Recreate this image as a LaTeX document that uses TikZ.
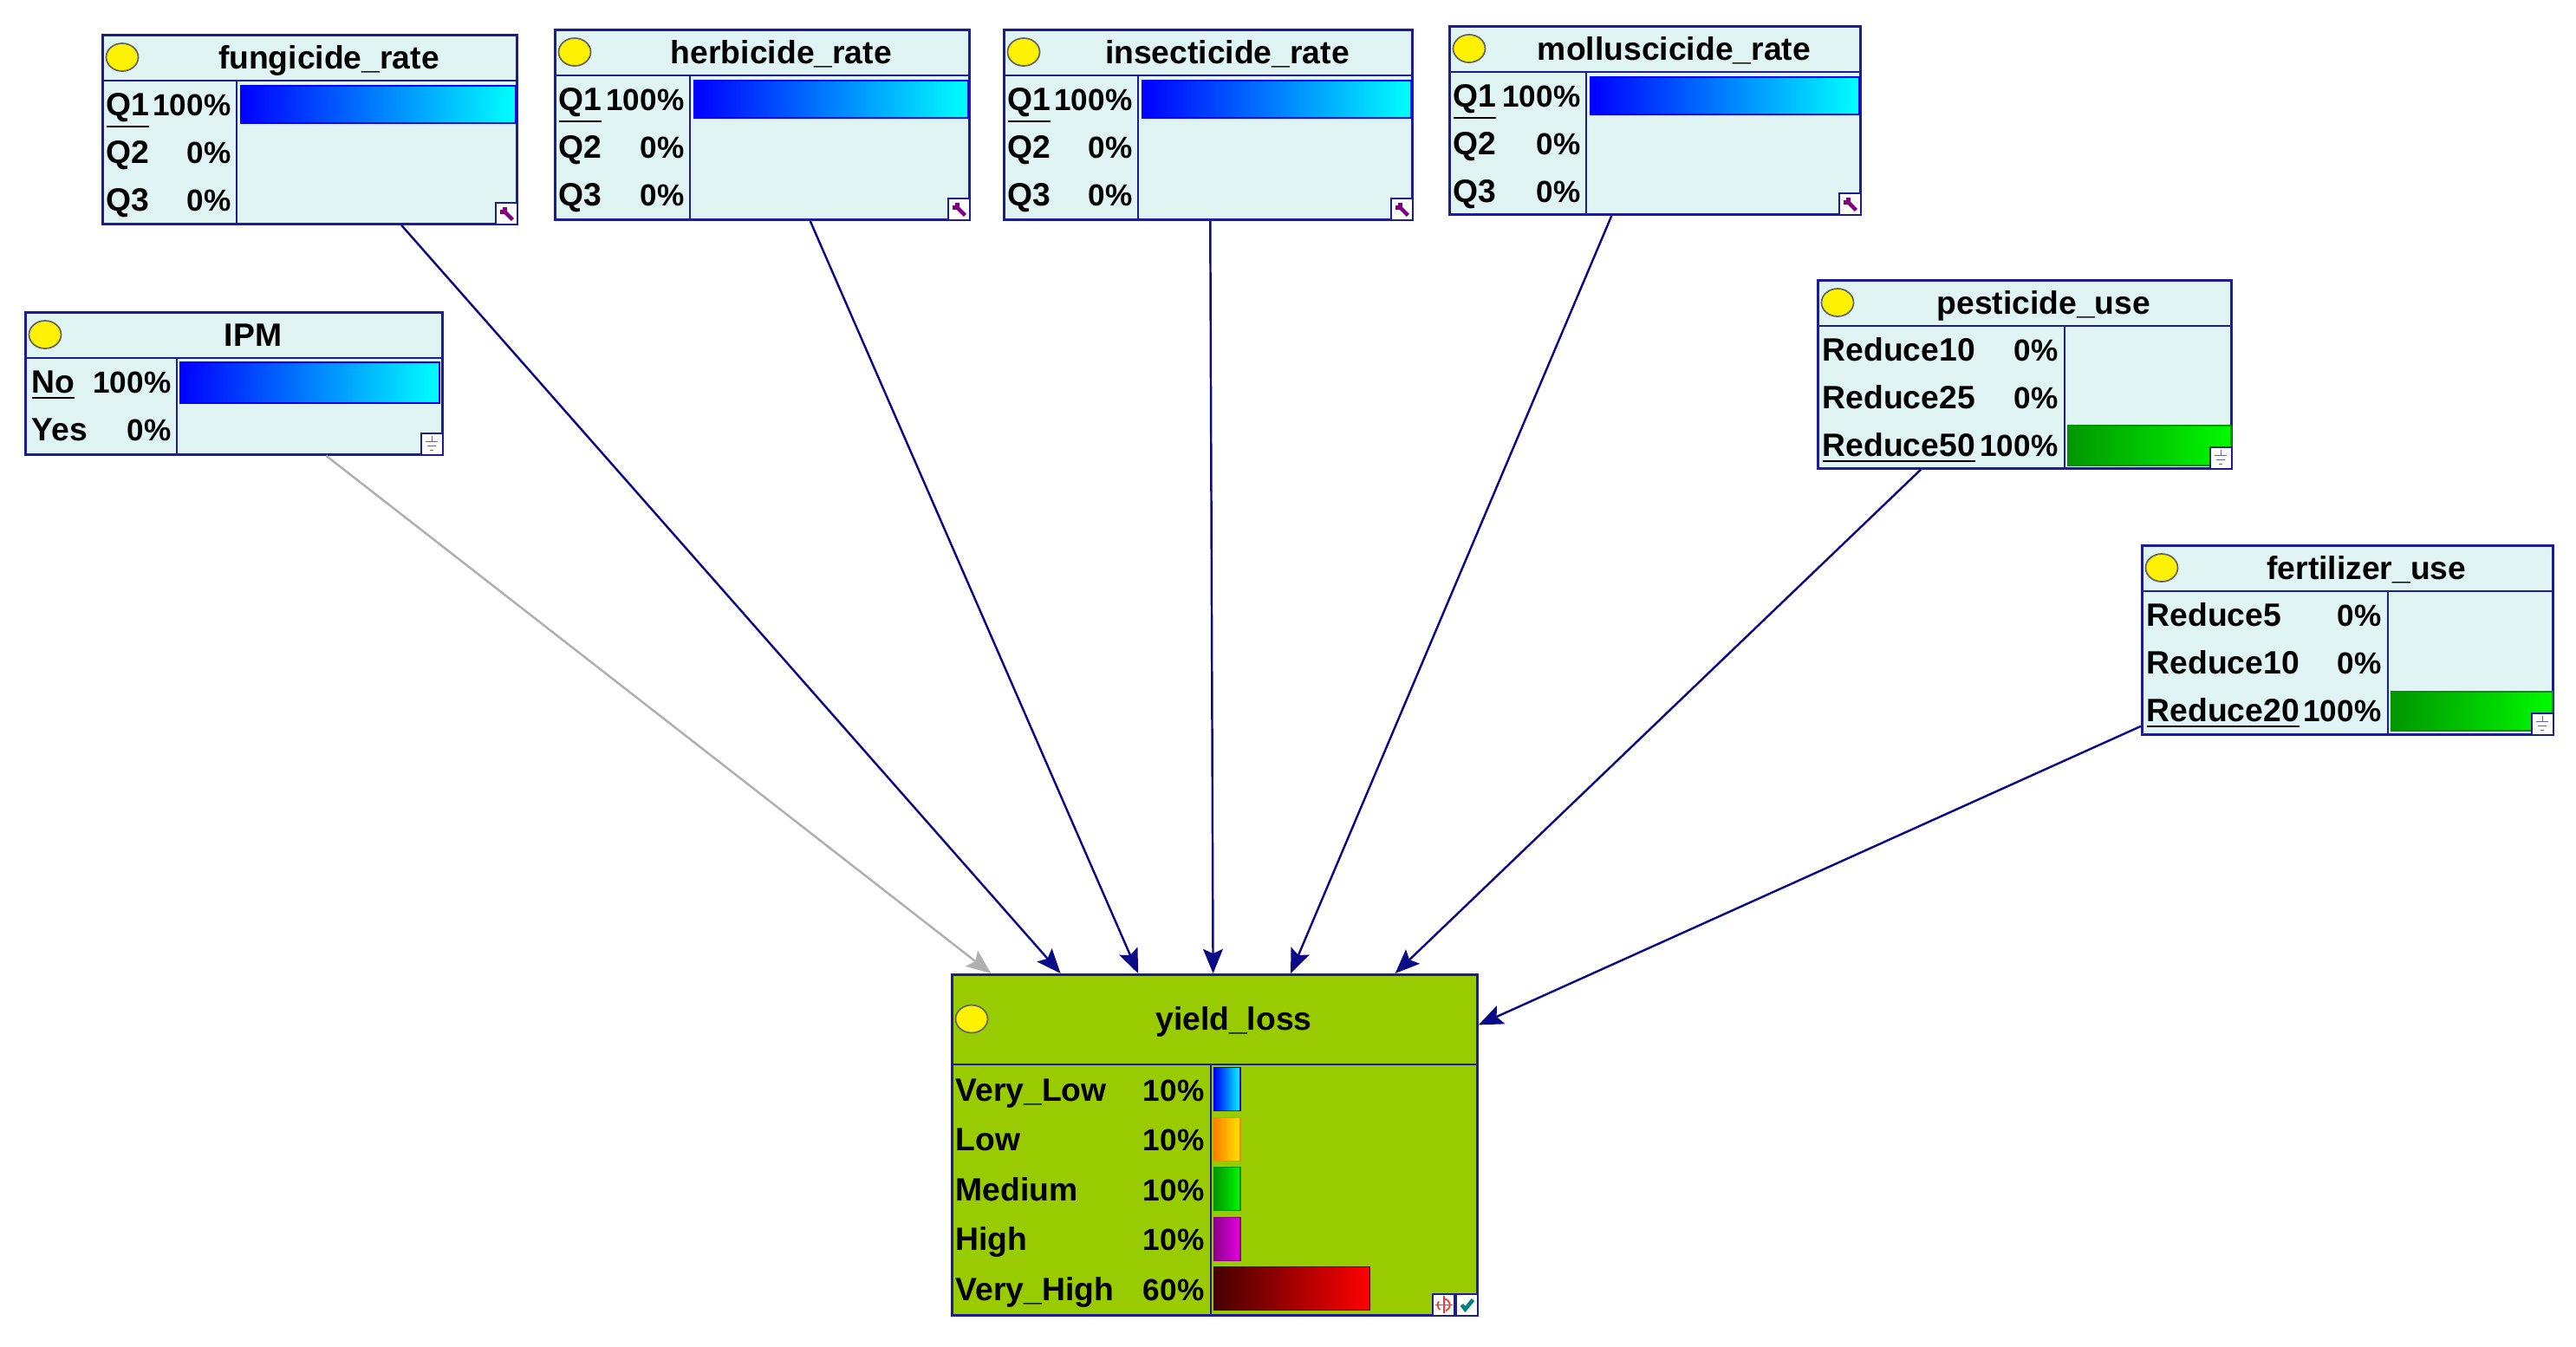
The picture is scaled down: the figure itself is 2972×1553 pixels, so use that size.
\documentclass[tikz,border=0pt]{standalone}
\usepackage{fontspec}
\setmainfont{Liberation Sans}
\usetikzlibrary{shapes, shapes.misc}
\usetikzlibrary{arrows.meta}
\usetikzlibrary{calc}

\definecolor{netblue}{RGB}{28,28,150}
\definecolor{arcblue}{RGB}{10,10,135}
\definecolor{ipmgray}{RGB}{175,175,175}
\definecolor{boxfill}{RGB}{225,244,244}
\definecolor{lossfill}{RGB}{153,204,0}
\definecolor{barblueA}{RGB}{0,0,255}
\definecolor{barblueB}{RGB}{0,255,255}
\definecolor{bargreenA}{RGB}{0,150,0}
\definecolor{bargreenB}{RGB}{0,250,0}
\definecolor{lowA}{RGB}{255,128,0}
\definecolor{lowB}{RGB}{255,230,0}
\definecolor{highA}{RGB}{140,0,140}
\definecolor{highB}{RGB}{230,0,230}
\definecolor{vhighA}{RGB}{70,0,0}
\definecolor{vhighB}{RGB}{255,0,0}

\tikzset{
  netbox/.style={draw=netblue, line width=0.8pt, fill=boxfill, rectangle, inner sep=0pt, anchor=north west},
  netline/.style={draw=netblue, line width=0.8pt},
  nettext/.style={font=\bfseries\fontsize{10.6}{12}\selectfont, inner sep=0pt, text height=10pt, text depth=2.4pt},
  pcttext/.style={nettext, font=\bfseries\fontsize{10}{12}\selectfont, anchor=east},
  bulb/.style={ellipse, draw=black!60, fill=yellow, line width=0.5pt, minimum width=0.37cm, minimum height=0.32cm, inner sep=0pt},
  iconbox/.style={draw=netblue, fill=white, line width=0.5pt, minimum size=0.25cm, inner sep=0pt, anchor=south east},
  wrenchline/.style={draw=violet, line width=1.3pt},
  groundline/.style={draw=netblue!70, line width=0.5pt},
  netarc/.style={>={Stealth[length=8pt, width=6.5pt, inset=1.5pt]}, ->, draw=arcblue, line width=0.7pt},
}

% box with header, bulb and title: name, x, y, width, height, header, column, title
\newcommand{\netnode}[8]{%
  \node[netbox, minimum width=#4*0.01cm, minimum height=#5*0.01cm] (#1) at (#2,#3) {};
  \draw[netline] ($(#1.north west)+(0,#6)$) -- ($(#1.north east)+(0,#6)$);
  \draw[netline] ($(#1.north west)+(#7,#6)$) -- ($(#1.south west)+(#7,0)$);
  \node[bulb] (#1-bulb) at ($(#1.north west)+(24,{#6/2})$) {};
  \node[nettext] (#1-title) at ($(#1.north)+(22,{#6/2})$) {#8};
}

\begin{document}
\begin{tikzpicture}[x=0.01cm, y=-0.01cm]
\useasboundingbox (0,0) rectangle (2972,1553);

% parents
\netnode{fung}{117}{39}{478}{218}{54}{156}{fungicide\_rate}
\netnode{herb}{639}{33}{478}{219}{54}{157}{herbicide\_rate}
\netnode{insect}{1157}{33}{471}{219}{54}{156}{insecticide\_rate}
\netnode{mollus}{1671}{29}{474}{217}{54}{159}{molluscicide\_rate}
\netnode{ipm}{28}{359}{481}{164}{54}{176}{IPM}
\netnode{pest}{2096}{322}{477}{217}{54}{286}{pesticide\_use}
\netnode{fert}{2470}{628}{474}{218}{54}{285}{fertilizer\_use}
% child
\begin{scope}[netbox/.append style={fill=lossfill}]
\netnode{loss}{1097}{1123}{606}{393}{105}{300}{yield\_loss}
\end{scope}

% rate states
\foreach \n/\cw in {fung/156, herb/157, insect/156, mollus/159} {
  \foreach \s/\p [count=\i] in {\underline{Q1}/100\%, Q2/0\%, Q3/0\%} {
    \node[nettext, anchor=west] (\n-s\i) at ($(\n.north west)+(5,{54+55*(\i-0.5)})$) {\s};
    \node[pcttext] (\n-p\i) at ($(\n.north west)+(\cw-6,{54+55*(\i-0.5)})$) {\p};
  }
  \shade[draw=barblueA, line width=0.4pt, left color=barblueA, right color=barblueB]
    ($(\n.north west)+(\cw+5,60)$) rectangle ($(\n.north east)+(-3,103)$);
  \node[iconbox] (\n-icon) at (\n.south east) {};
  \draw[wrenchline] ($(\n-icon.center)+(-7,-2)$) -- ($(\n-icon.center)+(-2,-2)$) -- ($(\n-icon.center)+(-2,-7)$);
  \draw[wrenchline] ($(\n-icon.center)+(-2,-2)$) -- ($(\n-icon.center)+(7,7)$);
}

% IPM states
\foreach \s/\p [count=\i] in {\underline{No}/100\%, Yes/0\%} {
  \node[nettext, anchor=west] (ipm-s\i) at ($(ipm.north west)+(8,{54+55*(\i-0.5)})$) {\s};
  \node[pcttext] (ipm-p\i) at ($(ipm.north west)+(170,{54+55*(\i-0.5)})$) {\p};
}
\shade[draw=barblueA, line width=0.4pt, left color=barblueA, right color=barblueB]
  ($(ipm.north west)+(180,59)$) rectangle ($(ipm.north east)+(-5,106)$);

% use states
\foreach \s/\p [count=\i] in {Reduce10/0\%, Reduce25/0\%, \underline{Reduce50}/100\%} {
  \node[nettext, anchor=west] (pest-s\i) at ($(pest.north west)+(6,{54+55*(\i-0.5)})$) {\s};
  \node[pcttext] (pest-p\i) at ($(pest.north west)+(279,{54+55*(\i-0.5)})$) {\p};
}
\shade[draw=bargreenA, line width=0.4pt, left color=bargreenA, right color=bargreenB]
  ($(pest.north west)+(290,169)$) rectangle ($(pest.north east)+(-2,215)$);
\foreach \s/\p [count=\i] in {Reduce5/0\%, Reduce10/0\%, \underline{Reduce20}/100\%} {
  \node[nettext, anchor=west] (fert-s\i) at ($(fert.north west)+(6,{54+55*(\i-0.5)})$) {\s};
  \node[pcttext] (fert-p\i) at ($(fert.north west)+(278,{54+55*(\i-0.5)})$) {\p};
}
\shade[draw=bargreenA, line width=0.4pt, left color=bargreenA, right color=bargreenB]
  ($(fert.north west)+(289,170)$) rectangle ($(fert.north east)+(-2,215)$);

\foreach \n in {ipm, pest, fert} {
  \node[iconbox] (\n-icon) at (\n.south east) {};
  \draw[groundline] ($(\n-icon.center)+(0,-9)$) -- ($(\n-icon.center)+(0,-3)$)
    ($(\n-icon.center)+(-7,-3)$) -- ($(\n-icon.center)+(7,-3)$)
    ($(\n-icon.center)+(-5,2)$) -- ($(\n-icon.center)+(5,2)$)
    ($(\n-icon.center)+(-2,7)$) -- ($(\n-icon.center)+(2,7)$);
}

% yield states
\foreach \s/\p/\f/\ca/\cb [count=\i] in {Very\_Low/10\%/0.1/barblueA/barblueB, Low/10\%/0.1/lowA/lowB,
    Medium/10\%/0.1/bargreenA/bargreenB, High/10\%/0.1/highA/highB, Very\_High/60\%/0.6/vhighA/vhighB} {
  \node[nettext, anchor=west] (loss-s\i) at ($(loss.north west)+(5,{105+57.5*(\i-0.5)})$) {\s};
  \node[pcttext] (loss-p\i) at ($(loss.north west)+(293,{105+57.5*(\i-0.5)})$) {\p};
  \shade[draw=\ca, line width=0.4pt, left color=\ca, right color=\cb]
    ($(loss.north west)+(304,{105+57.5*(\i-0.5)-25})$) rectangle +({\f*299},50);
}
\node[iconbox] (loss-check) at (loss.south east) {};
\node[iconbox] (loss-target) at (loss-check.south west) {};
\draw[red!80, line width=0.5pt, densely dashed] (loss-target.center) circle (0.07cm);
\draw[red!80, line width=0.5pt] ($(loss-target.center)+(-10,0)$) -- ($(loss-target.center)+(10,0)$)
  ($(loss-target.center)+(0,-10)$) -- ($(loss-target.center)+(0,10)$);
\draw[teal, line width=1.3pt] ($(loss-check.center)+(-6,0)$) -- ($(loss-check.center)+(-2,5)$) -- ($(loss-check.center)+(7,-6)$);

% arcs
\draw[netarc, draw=ipmgray] ($(ipm.south west)!0.72!(ipm.south east)$) -- ($(loss.north west)!0.076!(loss.north east)$);
\draw[netarc] ($(fung.south west)!0.72!(fung.south east)$) -- ($(loss.north west)!0.208!(loss.north east)$);
\draw[netarc] ($(herb.south west)!0.615!(herb.south east)$) -- ($(loss.north west)!0.355!(loss.north east)$);
\draw[netarc] ($(insect.south west)!0.505!(insect.south east)$) -- ($(loss.north west)!0.497!(loss.north east)$);
\draw[netarc] ($(mollus.south west)!0.395!(mollus.south east)$) -- ($(loss.north west)!0.644!(loss.north east)$);
\draw[netarc] ($(pest.south west)!0.25!(pest.south east)$) -- ($(loss.north west)!0.842!(loss.north east)$);
\draw[netarc] ($(fert.south west)!0.05!(fert.north west)$) -- ($(loss.north east)!0.15!(loss.south east)$);
\end{tikzpicture}
\end{document}
